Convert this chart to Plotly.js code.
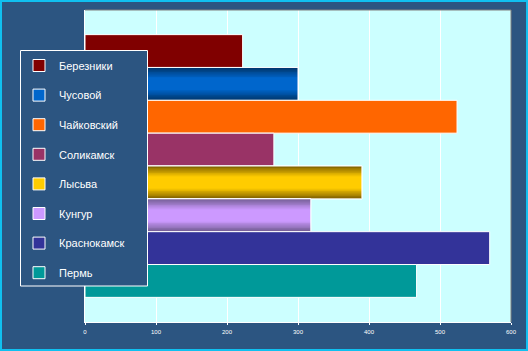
<!DOCTYPE html>
<html><head><meta charset="utf-8">
<script src="https://cdn.plot.ly/plotly-3.0.1.min.js"></script>
<style>html,body{margin:0;padding:0;background:#2C5581;}#chart{width:528px;height:351px;}</style>
</head><body><div id="chart"></div>
<script>
// ---- data ----
const cities = ['Березники','Чусовой','Чайковский','Соликамск','Лысьва','Кунгур','Краснокамск','Пермь'];
const values = [222, 300, 524, 266, 390, 318, 570, 467];
const xTicks = [0, 100, 200, 300, 400, 500, 600];
const xTickLabels = ['0', '100', '200', '300', '400', '500', '600'];

// ---- styles ----
const colors = ['#800000','#0066CC','#FF6600','#993366','#FFCC00','#CC99FF','#333399','#009999'];
const gradientEdges = {1:'#003366', 4:'#7A5C00', 5:'#6E5A8E'};
const BG = '#2C5581';

function hex2rgb(h){h=h.replace('#','');return [0,2,4].map(i=>parseInt(h.substr(i,2),16));}
function lerp(c1,c2,t){const a=hex2rgb(c1),b=hex2rgb(c2);return 'rgb('+a.map((v,i)=>Math.round(v+(b[i]-v)*t)).join(',')+')';}

const traces = [];
cities.forEach((c,i)=>{
  traces.push({type:'bar', orientation:'h', y:[c], x:[values[i]], width:1, name:c, legendgroup:c,
    marker:{color:colors[i], line:{color:'#FFFFFF', width:1}}, hoverinfo:'skip'});
  if (gradientEdges[i]) {
    const N = 14, wMin = 0.35;
    for (let k=0;k<N;k++){
      const w = 1 - k*((1-wMin)/(N-1));
      const wNext = k<N-1 ? 1-(k+1)*((1-wMin)/(N-1)) : w;
      const mid = (w+wNext)/2;
      const t = Math.min(1, Math.max(0, (mid-wMin)/(1-wMin)));
      traces.push({type:'bar', orientation:'h', y:[c], x:[values[i]], width:w, legendgroup:c, showlegend:false,
        marker:{color:lerp(colors[i], gradientEdges[i], t), line:{width:0}}, hoverinfo:'skip'});
    }
    traces.push({type:'bar', orientation:'h', y:[c], x:[values[i]], width:1, legendgroup:c, showlegend:false,
      marker:{color:'rgba(0,0,0,0)', line:{color:'#FFFFFF', width:1}}, hoverinfo:'skip'});
  }
});

// pixel -> paper helpers (plot area 85..511 x 10..322)
const L=85, R=17, T=10, B=29, W=528, H=351;
const pw = W-L-R, ph = H-T-B;
const px = x => (x-L)/pw;
const py = y => (H-B-y)/ph;

const layout = {
  width: W, height: H,
  paper_bgcolor: BG, plot_bgcolor: '#CCFFFF',
  margin: {l:L, r:R, t:T, b:B, pad:0, autoexpand:false},
  barmode: 'overlay', bargap: 0,
  font: {family: 'Arial, "Liberation Sans", sans-serif', color: '#FFFFFF'},
  xaxis: {range:[0,600], tickmode:'array', tickvals:xTicks, ticktext:xTickLabels,
    showgrid:true, gridcolor:'#FFFFFF', gridwidth:1, showline:true, linecolor:'#FFFFFF', linewidth:1,
    ticks:'outside', ticklen:2, tickcolor:'#FFFFFF', tickfont:{size:6, color:'#FFFFFF'},
    ticklabelstandoff:2, zeroline:false, fixedrange:true},
  yaxis: {type:'category', categoryorder:'array', categoryarray:cities, range:[8.25, -1.25],
    showticklabels:false, showgrid:false, showline:true, linecolor:'#FFFFFF', linewidth:1,
    zeroline:false, ticks:'', fixedrange:true},
  showlegend: true,
  legend: {x: px(19), xanchor:'left', y: py(51), yanchor:'top', bgcolor:'rgba(0,0,0,0)', borderwidth:0,
    font:{size:11, color:'#FFFFFF'}, tracegroupgap:10.6, traceorder:'grouped'},
  shapes: [
    {type:'line', xref:'paper', yref:'paper', x0:0, x1:1, y0:1, y1:1, line:{color:'#808080', width:1}, layer:'above'},
    {type:'line', xref:'paper', yref:'paper', x0:1, x1:1, y0:0, y1:1, line:{color:'#808080', width:1}, layer:'above'},
    {type:'rect', xref:'paper', yref:'paper', x0:px(20.5), x1:px(147.5), y0:py(50.5), y1:py(286), fillcolor:BG, line:{color:'#FFFFFF', width:1}, layer:'above'},
    {type:'rect', xref:'paper', yref:'paper', x0:px(1), x1:px(527), y0:py(1), y1:py(350), fillcolor:'rgba(0,0,0,0)', line:{color:'#10C0F0', width:2}, layer:'above'}
  ]
};

Plotly.newPlot('chart', traces, layout, {staticPlot:true, displayModeBar:false});
</script>
</body></html>
